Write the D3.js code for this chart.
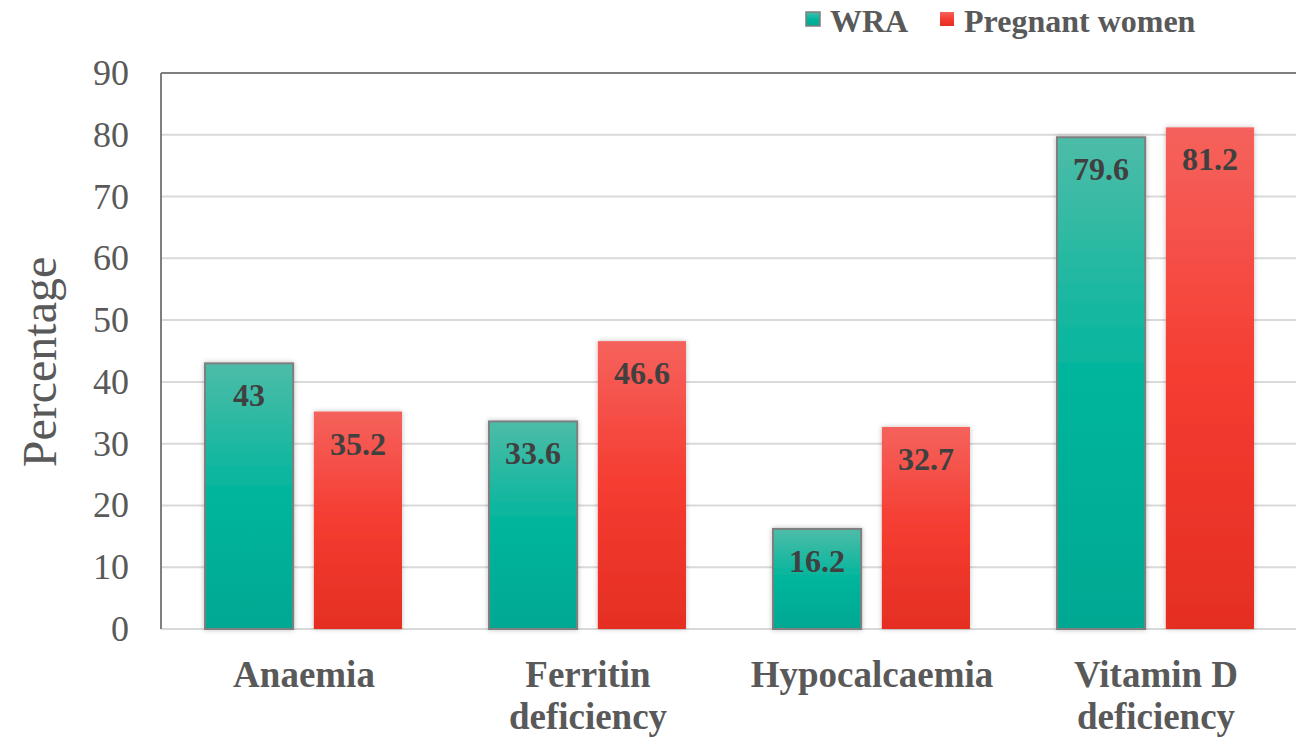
<!DOCTYPE html>
<html><head><meta charset="utf-8">
<script src="https://cdn.jsdelivr.net/npm/d3@7"></script>
<style>html,body{margin:0;padding:0;background:#fff;overflow:hidden}</style>
</head><body>
<svg id="chart" width="1296" height="737"></svg>
<script>
const categories = [["Anaemia"], ["Ferritin", "deficiency"], ["Hypocalcaemia"], ["Vitamin D", "deficiency"]];
const seriesNames = ["WRA", "Pregnant women"];
const wraValues = [43, 33.6, 16.2, 79.6];
const pregnantValues = [35.2, 46.6, 32.7, 81.2];
const yTicks = [0, 10, 20, 30, 40, 50, 60, 70, 80, 90];

const svg = d3.select("#chart");
const W = 1296, H = 737;
const m = {left: 161, top: 73, right: 1297, bottom: 629};
const font = "Liberation Serif, Times New Roman, serif";

const x0 = d3.scaleBand().domain(d3.range(categories.length)).range([m.left, m.right]).paddingInner(0).paddingOuter(0);
const x1 = d3.scaleBand().domain([0, 1]).range([44, 284 - 43]).paddingInner(0.19);
const y = d3.scaleLinear().domain([0, 90]).range([m.bottom, m.top]);

const defs = svg.append("defs");
const g1 = defs.append("linearGradient").attr("id", "gWRA").attr("x1", 0).attr("y1", 0).attr("x2", 0).attr("y2", 1);
g1.append("stop").attr("offset", "0%").attr("stop-color", "#4dbca8");
g1.append("stop").attr("offset", "50%").attr("stop-color", "#00b59c");
g1.append("stop").attr("offset", "100%").attr("stop-color", "#00a892");
const g2 = defs.append("linearGradient").attr("id", "gPW").attr("x1", 0).attr("y1", 0).attr("x2", 0).attr("y2", 1);
g2.append("stop").attr("offset", "0%").attr("stop-color", "#f5625c");
g2.append("stop").attr("offset", "50%").attr("stop-color", "#f53c31");
g2.append("stop").attr("offset", "100%").attr("stop-color", "#e52e23");
const f = defs.append("filter").attr("id", "sh").attr("x", "-20%").attr("y", "-20%").attr("width", "140%").attr("height", "140%");
f.append("feDropShadow").attr("dx", 0).attr("dy", 0).attr("stdDeviation", 2.5).attr("flood-color", "#000").attr("flood-opacity", 0.25);

// gridlines
svg.append("g").selectAll("line").data(yTicks.filter(t => t > 0 && t < 90)).join("line")
  .attr("x1", m.left).attr("x2", W).attr("y1", d => y(d)).attr("y2", d => y(d))
  .attr("stroke", "#d9d9d9").attr("stroke-width", 2);
svg.append("line").attr("x1", m.left).attr("x2", W).attr("y1", y(0)).attr("y2", y(0))
  .attr("stroke", "#d9d9d9").attr("stroke-width", 2);
svg.append("line").attr("x1", m.left).attr("x2", W).attr("y1", y(90)).attr("y2", y(90))
  .attr("stroke", "#7f7f7f").attr("stroke-width", 2);
svg.append("line").attr("x1", m.left).attr("x2", m.left).attr("y1", y(90)).attr("y2", y(0))
  .attr("stroke", "#7f7f7f").attr("stroke-width", 2);

// y tick labels
svg.append("g").selectAll("text").data(yTicks).join("text")
  .attr("x", 129).attr("y", d => y(d) + 12).attr("text-anchor", "end")
  .attr("font-family", font).attr("font-size", 36).attr("fill", "#595959").text(d => d);

// y title
svg.append("text").attr("transform", "translate(56,362) rotate(-90)").attr("text-anchor", "middle")
  .attr("font-family", font).attr("font-size", 48).attr("fill", "#595959").text("Percentage");

const series = [wraValues, pregnantValues];
const fills = ["url(#gWRA)", "url(#gPW)"];
series.forEach((vals, si) => {
  const g = svg.append("g");
  g.selectAll("rect").data(vals).join("rect")
    .attr("x", (d, i) => x0(i) + x1(si)).attr("width", x1.bandwidth())
    .attr("y", d => y(d)).attr("height", d => y(0) - y(d))
    .attr("fill", fills[si]).attr("filter", "url(#sh)")
    .attr("stroke", si === 0 ? "#7f7f7f" : "none").attr("stroke-width", 2);
  g.selectAll("text").data(vals).join("text")
    .attr("x", (d, i) => x0(i) + x1(si) + x1.bandwidth() / 2)
    .attr("y", d => y(d) + 43).attr("text-anchor", "middle")
    .attr("font-family", font).attr("font-size", 32).attr("font-weight", "bold").attr("fill", "#404040")
    .text(d => d);
});

// category labels
const cg = svg.append("g");
categories.forEach((lines, i) => {
  const t = cg.append("text").attr("text-anchor", "middle").attr("font-family", font)
    .attr("font-size", 37).attr("font-weight", "bold").attr("fill", "#595959");
  lines.forEach((ln, j) => {
    t.append("tspan").attr("x", x0(i) + x0.bandwidth() / 2 + 1).attr("y", 687 + j * 42).text(ln);
  });
});

// legend
const lg = svg.append("g");
const legendItems = [{x: 806, tx: 830, fill: "url(#gWRA)", stroke: "#7f7f7f"}, {x: 940, tx: 964, fill: "url(#gPW)", stroke: "none"}];
legendItems.forEach((it, i) => {
  lg.append("rect").attr("x", it.x).attr("y", 12).attr("width", 14).attr("height", 14)
    .attr("fill", it.fill).attr("stroke", it.stroke).attr("stroke-width", 1.5);
  lg.append("text").attr("x", it.tx).attr("y", 32).attr("font-family", font).attr("font-size", 32)
    .attr("font-weight", "bold").attr("fill", "#595959").text(seriesNames[i]);
});
</script>
</body></html>
